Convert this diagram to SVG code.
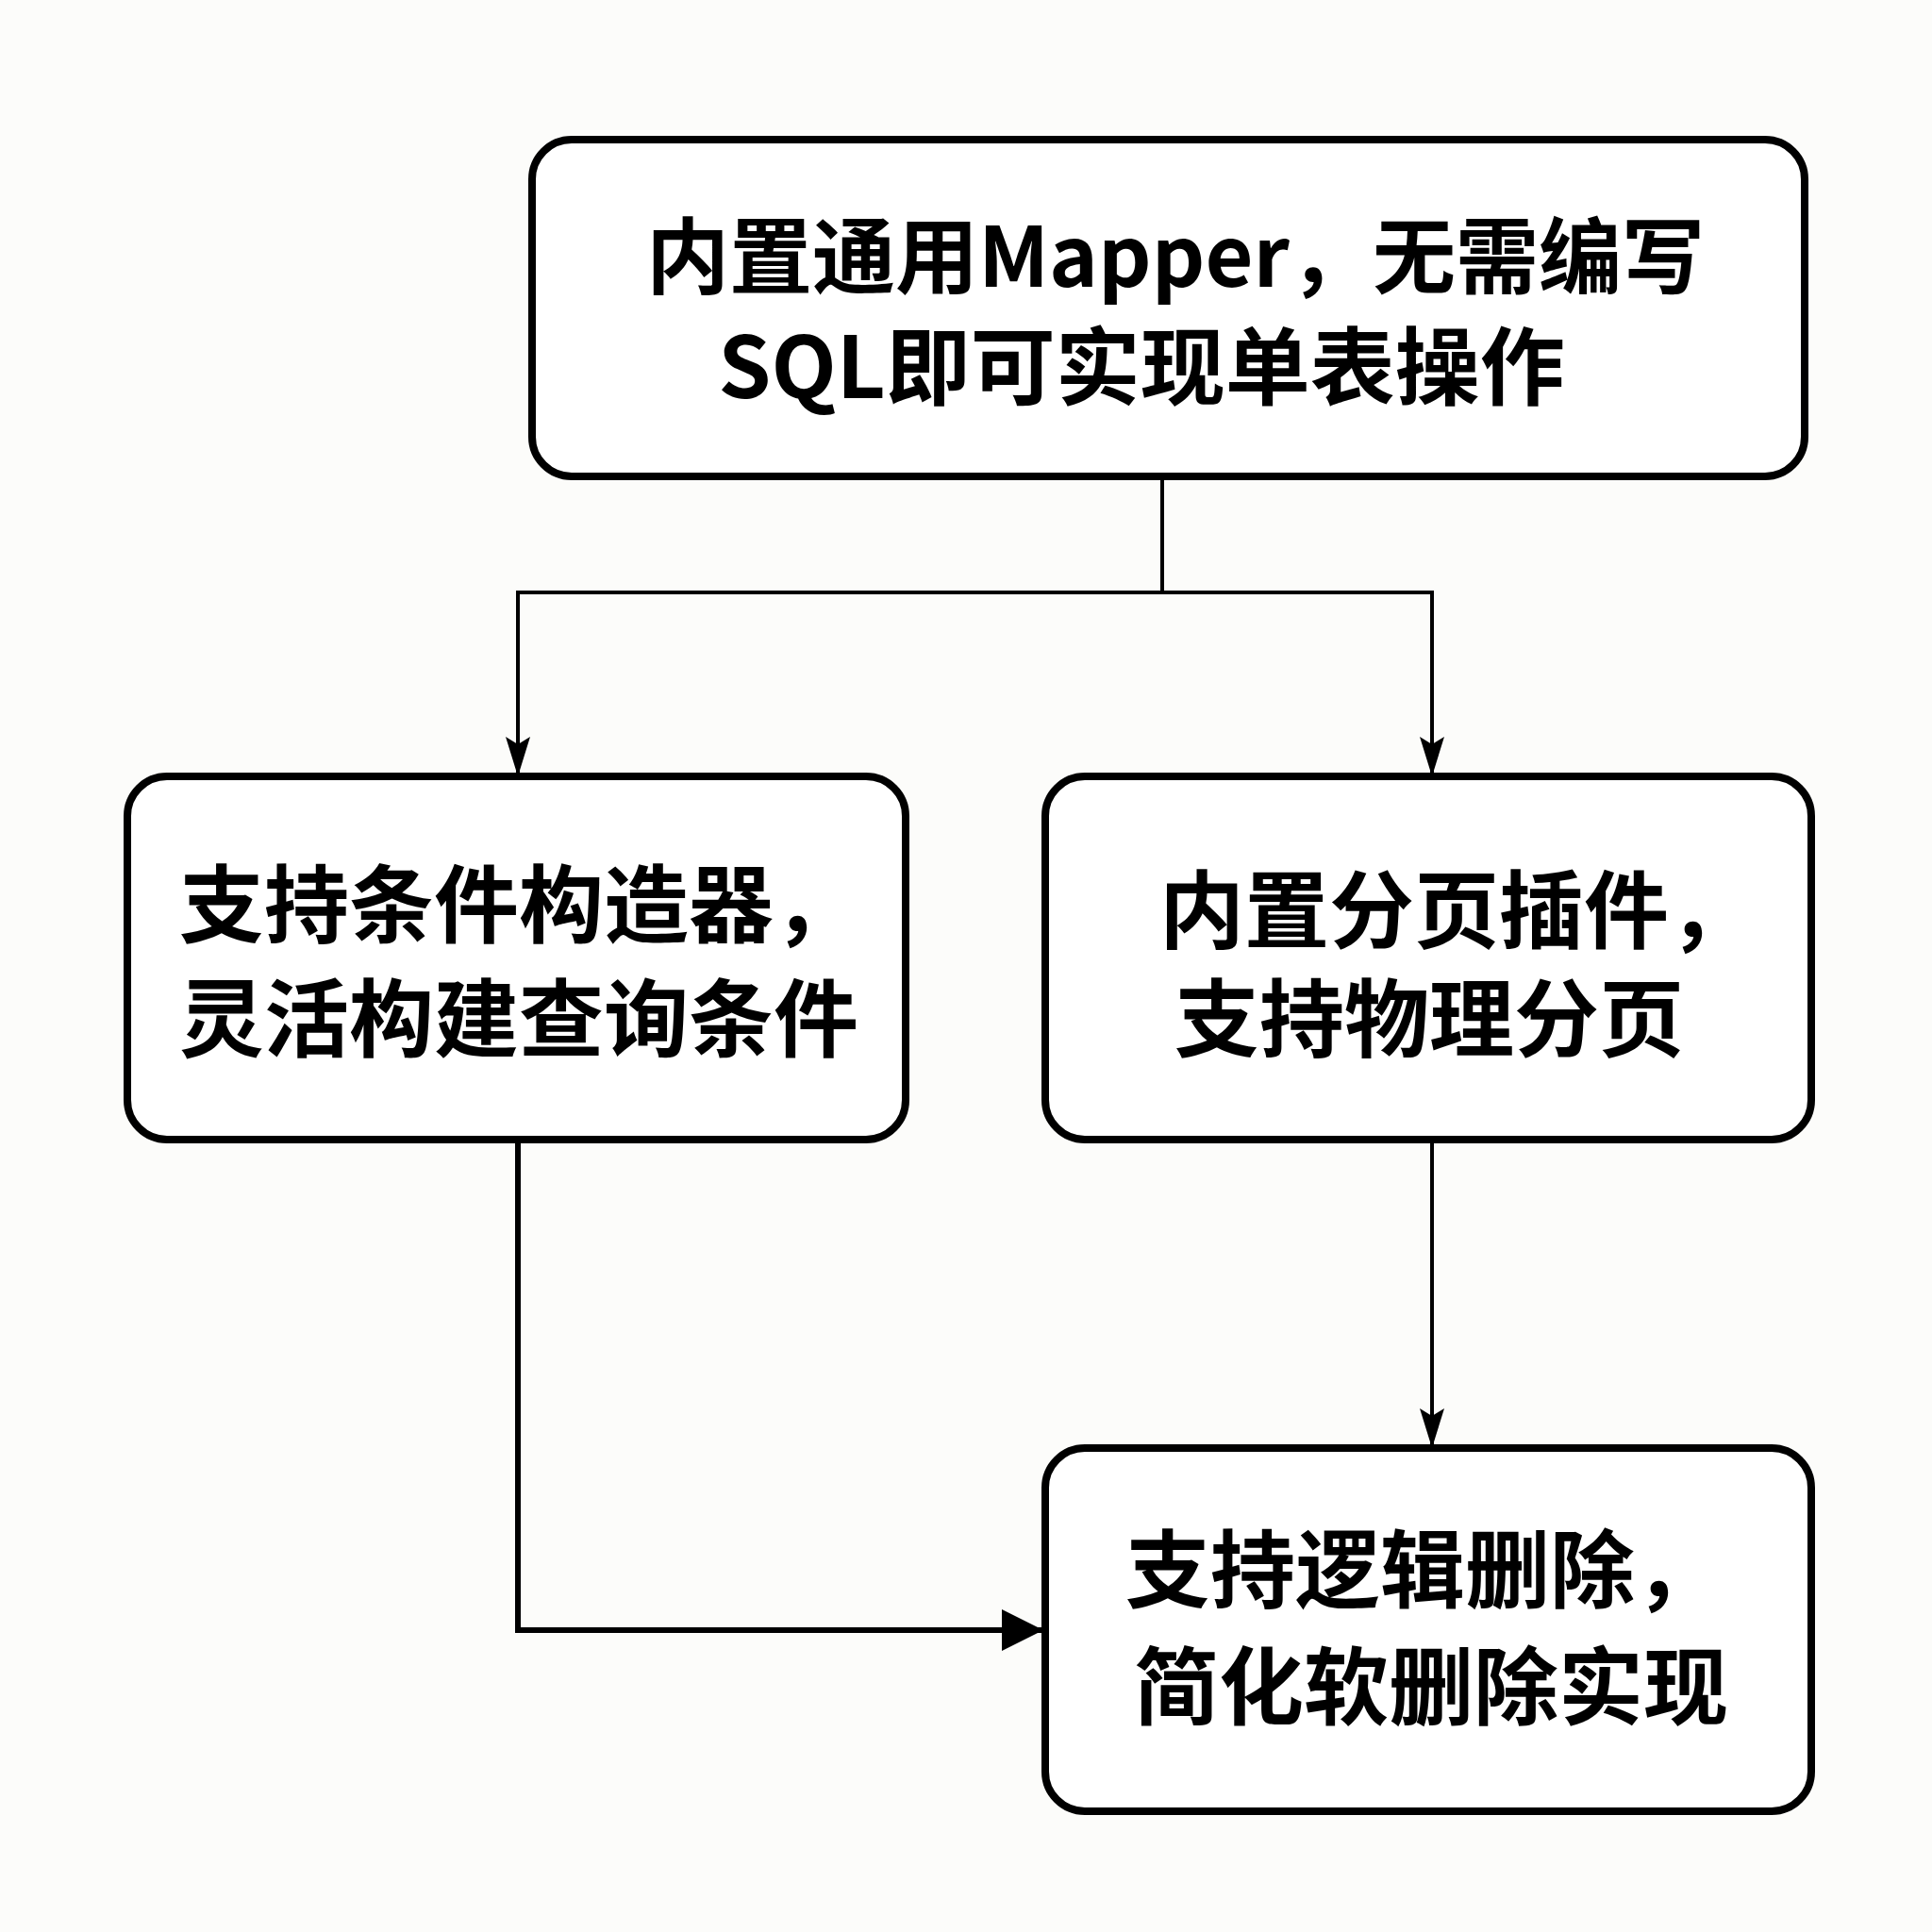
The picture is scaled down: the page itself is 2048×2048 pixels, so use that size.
<svg xmlns="http://www.w3.org/2000/svg" width="2048" height="2048" viewBox="0 0 2048 2048">
<style>
.box{fill:#ffffff;stroke:#000;stroke-width:8}
.t{font-family:"Noto Sans CJK SC","Noto Sans",sans-serif;font-weight:700;font-size:90px;fill:#000;text-anchor:middle}
.c{fill:none;stroke:#000;stroke-width:4}
.c2{fill:none;stroke:#000;stroke-width:6}
</style>
<defs>
<marker id="ad" markerWidth="42" markerHeight="26" refX="40" refY="13" orient="auto" markerUnits="userSpaceOnUse" viewBox="0 0 42 26">
<path d="M0,0 L42,13 L0,26 L8,13 Z" fill="#000"/>
</marker>
<marker id="ar" markerWidth="44" markerHeight="44" refX="44" refY="22" orient="auto" markerUnits="userSpaceOnUse" viewBox="0 0 44 44">
<path d="M0,0 L44,22 L0,44 Z" fill="#000"/>
</marker>
</defs>
<rect x="0" y="0" width="2048" height="2048" fill="#fcfcfa"/>
<g id="connectors">
<path class="c" d="M1232,505 V628 H549 V821" marker-end="url(#ad)"/>
<path class="c" d="M1232,628 H1518 V821" marker-end="url(#ad)"/>
<path class="c" d="M1518,1208 V1533" marker-end="url(#ad)"/>
<path class="c2" d="M549,1208 V1728 H1106" marker-end="url(#ar)"/>
</g>
<g id="node-top">
<rect class="box" x="564" y="148" width="1349" height="357" rx="42"/>
<text class="t" x="1246" y="304" style="font-size:88px">内置通用Mapper，无需编写</text>
<text class="t" x="1210" y="422">SQL即可实现单表操作</text>
</g>
<g id="node-left">
<rect class="box" x="135" y="823" width="825" height="385" rx="42"/>
<text class="t" x="550" y="992">支持条件构造器，</text>
<text class="t" x="550" y="1113">灵活构建查询条件</text>
</g>
<g id="node-right">
<rect class="box" x="1108" y="823" width="812" height="385" rx="42"/>
<text class="t" x="1544" y="998">内置分页插件，</text>
<text class="t" x="1515" y="1113">支持物理分页</text>
</g>
<g id="node-bottom">
<rect class="box" x="1108" y="1535" width="812" height="385" rx="42"/>
<text class="t" x="1508" y="1697">支持逻辑删除，</text>
<text class="t" x="1517" y="1821">简化软删除实现</text>
</g>
</svg>
